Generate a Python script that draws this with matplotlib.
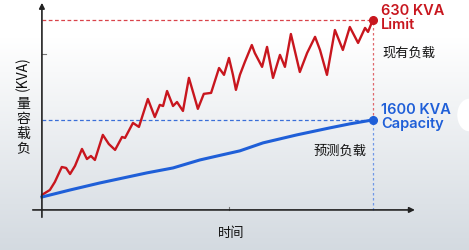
import numpy as np
import matplotlib.pyplot as plt
from matplotlib.patches import Ellipse

plt.rcParams['font.family'] = ['Noto Sans CJK SC', 'DejaVu Sans']

# ---------------------------
# DATA (time 0..100, load scaled so the limit = 100)
# ---------------------------
red_t = [0, 2.4, 3.9, 6.0, 7.3, 8.5, 10.0, 12.1, 13.6, 14.8, 16.0, 18.4, 20.2, 22.1,
         24.2, 25.1, 27.5, 29.3, 32.0, 34.1, 35.6, 36.6, 37.8, 39.6, 40.8, 42.6, 44.4,
         45.9, 47.1, 48.9, 51.1, 53.5, 55.0, 56.5, 57.7, 58.6, 59.8, 61.3, 63.4, 64.3,
         66.5, 68.0, 69.8, 71.9, 73.4, 75.2, 77.9, 80.1, 82.5, 84.0, 86.1, 88.5, 90.9,
         93.0, 95.5, 97.6, 98.5, 99.7, 100]
red_load = [7.9, 10.5, 14.7, 22.6, 22.1, 18.9, 23.2, 32.1, 26.8, 28.4, 26.3, 39.5, 34.7,
            31.6, 38.4, 37.9, 45.8, 43.7, 58.4, 48.9, 55.3, 54.7, 62.6, 54.7, 56.8, 52.1,
            69.5, 60.5, 53.2, 61.1, 61.6, 74.7, 71.1, 80.0, 71.1, 63.2, 71.1, 77.9, 86.8,
            82.6, 75.3, 85.8, 69.5, 81.6, 75.3, 92.6, 72.6, 82.6, 91.1, 84.2, 71.1, 94.7,
            84.2, 96.3, 87.9, 95.8, 93.7, 98.9, 100]

blue_t = [0, 8.5, 17.5, 31.7, 39.6, 47.7, 51.7, 59.8, 66.8, 77.0, 87.0, 93.0, 100]
blue_load = [6.8, 10.5, 14.2, 19.5, 22.1, 26.3, 27.9, 31.1, 35.3, 39.5, 43.2, 45.3, 47.4]

limit_level = 100
capacity_level = 47.4
end_t = 100

RED = '#c8161e'
BLUE = '#1f5fd8'

fig = plt.figure(figsize=(4.69, 2.5), dpi=100)

# background gradient
bg = fig.add_axes([0, 0, 1, 1])
grad = np.linspace(0, 1, 256).reshape(-1, 1)
grad = np.clip((grad - 0.15) / 0.85, 0, 1)
top = np.array([1.0, 1.0, 1.0])
bot = np.array([0.83, 0.855, 0.88])
img = top + (bot - top) * grad[:, :, None]
bg.imshow(img, aspect='auto', extent=[0, 1, 0, 1])
bg.add_patch(Ellipse((1.0, 0.54), 0.05, 0.13, color='white', lw=0))
bg.set_xlim(0, 1)
bg.set_ylim(0, 1)
bg.axis('off')

ax = fig.add_axes([30 / 469, 1 - 220 / 250, 390 / 469, 220 / 250])
ax.patch.set_alpha(0)
ax.set_xlim(-3.6, 114.2)
ax.set_ylim(-5.3, 110.5)
ax.axis('off')

# axes with arrows
ax.annotate('', xy=(0, 110.5), xytext=(0, -5.3),
            arrowprops=dict(arrowstyle='-|>', color='#222222', lw=1.2, mutation_scale=8))
ax.annotate('', xy=(113.5, 0), xytext=(-3.6, 0),
            arrowprops=dict(arrowstyle='-|>', color='#222222', lw=1.2, mutation_scale=8))
ax.plot([0, 1.3], [82.1, 82.1], color='#777777', lw=0.8)
ax.plot([56.5, 56.5], [0, 1.8], color='#777777', lw=0.8)

# reference lines
ax.plot([0, end_t], [limit_level, limit_level], color='#d9434a', lw=0.9, ls=(0, (3, 2)))
ax.plot([0, end_t], [capacity_level, capacity_level], color='#3a6fd8', lw=0.9, ls=(0, (3, 2)))
ax.plot([end_t, end_t], [capacity_level, limit_level], color='#e0666b', lw=0.9, ls=(0, (2, 2)))
ax.plot([end_t, end_t], [0, capacity_level], color='#6f98e8', lw=0.9, ls=(0, (2, 2)))

# series
ax.plot(red_t, red_load, color=RED, lw=1.7, solid_joinstyle='round', solid_capstyle='round')
ax.plot(blue_t, blue_load, color=BLUE, lw=2.2, solid_joinstyle='round')
ax.plot([end_t], [limit_level], 'o', color=RED, ms=5.5)
ax.plot([end_t], [capacity_level], 'o', color=BLUE, ms=5.5)

# labels
ax.text(102.5, 108.5, '630 KVA\nLimit', color=RED, fontsize=10.5,
        fontweight='semibold', va='top', ha='left', linespacing=1.0, family=['Inter'])
ax.text(102.8, 82.5, '现有负载', color='#111111', fontsize=9.5, fontweight='medium',
        va='center', ha='left')
ax.text(102.5, 56.5, '1600 KVA\nCapacity', color=BLUE, fontsize=10.5,
        fontweight='semibold', va='top', ha='left', linespacing=1.0, family=['Inter'])
ax.text(98, 31, '预测负载', color='#111111', fontsize=9.5, fontweight='medium',
        va='center', ha='right')

fig.text(231 / 469, 1 - 233 / 250, '时间', fontsize=9.5, fontweight='medium',
         ha='center', va='center', color='#111111')

# y label: rotated unit, upright stacked characters
fig.text(23 / 469, 1 - 74 / 250, '(KVA)', fontsize=10, fontweight='medium', rotation=90,
         ha='center', va='center', color='#111111')
for ch, py in zip('量容载负', [104, 119, 134, 149]):
    fig.text(23 / 469, 1 - py / 250, ch, fontsize=10, fontweight='medium',
             ha='center', va='center', color='#111111')

fig.savefig('out.png', dpi=100)
